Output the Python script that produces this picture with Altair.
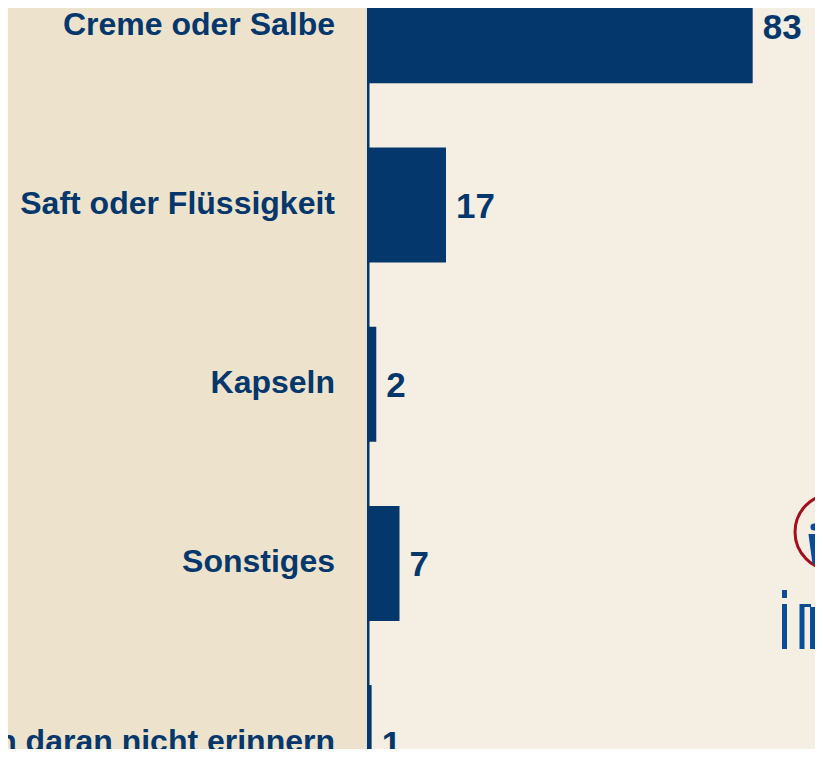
import altair as alt
import pandas as pd

categories = [
    "Creme oder Salbe",
    "Saft oder Flüssigkeit",
    "Kapseln",
    "Sonstiges",
    "Kann mich daran nicht erinnern",
]
values = [83, 17, 2, 7, 1]
order = [0, 1, 2, 3, 4]

NAVY = "#04376B"
LEFT_BG = "#EDE3CD"
RIGHT_BG = "#F5EEE3"
RED = "#A3101C"
LOGO_BLUE = "#0B4C94"
FONT = "Liberation Sans"

W, H = 807, 741

df = pd.DataFrame({"cat": categories, "val": values, "idx": order})

xs = alt.Scale(domain=[-77.25, 96.41], nice=False, zero=False)
ys = alt.Scale(domain=[-0.0993, 4.0357], nice=False, zero=False, reverse=True)

base = alt.Chart(df)
one = alt.Chart(pd.DataFrame({"a": [0]}))

panel = one.mark_rect(color=LEFT_BG).encode(
    x=alt.value(0), x2=alt.value(359), y=alt.value(0), y2=alt.value(H)
)

bars = base.transform_calculate(
    y0="datum.idx - 0.321", y1="datum.idx + 0.321", zero="0"
).mark_rect(color=NAVY).encode(
    x=alt.X("zero:Q", scale=xs, axis=None),
    x2="val:Q",
    y=alt.Y("y0:Q", scale=ys, axis=None),
    y2="y1:Q",
)

axis_line = one.mark_rule(color=NAVY, strokeWidth=2.5).encode(
    x=alt.value(360.25), y=alt.value(0), y2=alt.value(H)
)

labels = base.mark_text(
    align="right", baseline="alphabetic", dy=9, font=FONT,
    fontWeight="bold", fontSize=32, color=NAVY
).encode(
    x=alt.value(327),
    y=alt.Y("idx:Q", scale=ys, axis=None),
    text="cat:N",
)

vlabels = base.mark_text(
    align="left", baseline="alphabetic", dx=10, dy=13, font=FONT,
    fontWeight="bold", fontSize=35, color=NAVY
).encode(
    x=alt.X("val:Q", scale=xs, axis=None),
    y=alt.Y("idx:Q", scale=ys, axis=None),
    text="val:Q",
)

# logo decoration
ring = one.mark_point(
    shape="circle", size=5776, stroke=RED, strokeWidth=3, filled=False, opacity=1
).encode(x=alt.value(825), y=alt.value(524))

def head(x, y):
    return one.mark_circle(size=50, color=LOGO_BLUE, opacity=1).encode(
        x=alt.value(x), y=alt.value(y)
    )

def body(x, y):
    return one.mark_point(
        shape="M-0.37,-1 L0.37,-1 L0.1,1 L-0.1,1 Z", size=900,
        filled=True, color=LOGO_BLUE, opacity=1, strokeWidth=0
    ).encode(x=alt.value(x), y=alt.value(y))

def stroke(x1, y1, x2, y2, w=5):
    return one.mark_rule(color=LOGO_BLUE, strokeWidth=w).encode(
        x=alt.value(x1), y=alt.value(y1), x2=alt.value(x2), y2=alt.value(y2)
    )

logo = [
    ring,
    head(806, 519), body(806, 541),
    stroke(776.5, 582, 776.5, 590),
    stroke(776.5, 596, 776.5, 641),
    stroke(794, 596, 794, 641),
    stroke(804.5, 599, 804.5, 641),
    stroke(795, 597.5, 803, 597.5, 3),
]

chart = alt.layer(panel, bars, axis_line, labels, vlabels, *logo).properties(
    width=W, height=H,
    autosize=alt.AutoSizeParams(type="none"),
    padding=0,
    background=RIGHT_BG,
).configure_view(stroke=None, fill=RIGHT_BG)

chart.save("out.html", embed_options={"renderer": "svg", "actions": False})
